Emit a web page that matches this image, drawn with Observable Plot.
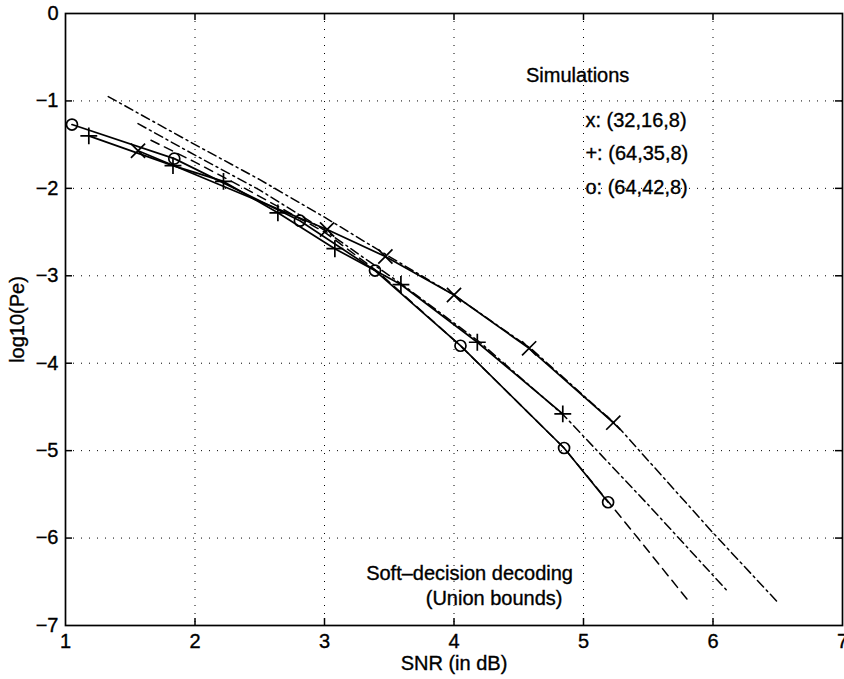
<!DOCTYPE html>
<html><head><meta charset="utf-8">
<script src="https://cdn.jsdelivr.net/npm/d3@7"></script>
<script src="https://cdn.jsdelivr.net/npm/@observablehq/plot@0.6"></script>
<style>body{margin:0;background:#fff} svg text{stroke:#000;stroke-width:0.35px}</style>
</head><body><div id="chart"></div>
<script>
// Tick values
const xTicks = [1, 2, 3, 4, 5, 6, 7];
const yTicks = [0, -1, -2, -3, -4, -5, -6, -7];

// Simulations (solid lines with markers)
const simX_snr = [1.56, 3.02, 3.47, 4.00, 4.58, 5.23];
const simX_logPe = [-1.57, -2.47, -2.78, -3.22, -3.83, -4.68];
const simPlus_snr = [1.18, 1.83, 2.22, 2.64, 3.08, 3.59, 4.18, 4.84];
const simPlus_logPe = [-1.40, -1.74, -1.92, -2.28, -2.69, -3.10, -3.76, -4.58];
const simO_snr = [1.05, 1.84, 2.81, 3.39, 4.05, 4.85, 5.19];
const simO_logPe = [-1.27, -1.66, -2.37, -2.94, -3.80, -4.97, -5.59];

// Union bounds (broken lines)
const boundX_snr = [1.33, 2.0, 2.5, 3.0, 3.5, 4.0, 4.6, 5.25, 6.0, 6.51];
const boundX_logPe = [-0.95, -1.50, -1.90, -2.33, -2.78, -3.22, -3.84, -4.70, -5.94, -6.75];
const boundPlus_snr = [1.56, 2.0, 2.5, 3.0, 3.6, 4.2, 4.85, 5.5, 6.12];
const boundPlus_logPe = [-1.26, -1.62, -2.02, -2.48, -3.10, -3.76, -4.60, -5.62, -6.62];
const boundO_snr = [1.66, 2.0, 2.41, 3.0, 3.4, 4.05, 4.85, 5.2, 5.42, 5.80];
const boundO_logPe = [-1.45, -1.70, -2.02, -2.50, -2.94, -3.80, -4.97, -5.60, -6.00, -6.70];

// Annotations
const annoText = ["Simulations", "x: (32,16,8)", "+: (64,35,8)", "o: (64,42,8)", "Soft\u2013decision decoding", "(Union bounds)"];
const annoSnr = [4.955, 5.015, 5.015, 5.015, 4.12, 4.31];
const annoLogPe = [-0.71, -1.22, -1.60, -1.99, -6.41, -6.69];
const annoAlign = ["middle", "start", "start", "start", "middle", "middle"];

const rows = (xs, ys) => xs.map((x, i) => ({snr: x, logPe: ys[i]}));
const anno = annoText.map((t, i) => ({text: t, snr: annoSnr[i], logPe: annoLogPe[i], align: annoAlign[i]}));
const fmt = d => (d < 0 ? "\u2212" + (-d) : String(d));

const W = 844, H = 679, mT = 13, mB = 54, mL = 65, mR = 2;
const plotH = H - mT - mB, plotW = W - mL - mR;
const font = "'Liberation Sans', Arial, Helvetica, sans-serif";

const chart = Plot.plot({
  width: W, height: H, marginTop: mT, marginBottom: mB, marginLeft: mL, marginRight: mR,
  style: {fontFamily: font, fontSize: "20px", color: "#000", background: "#fff", overflow: "visible"},
  x: {domain: [1, 7]},
  y: {domain: [-7, 0]},
  marks: [
    Plot.ruleX(xTicks.slice(1, -1), {x: d => d, stroke: "#000", strokeWidth: 1, strokeDasharray: "1,7"}),
    Plot.ruleY(yTicks.slice(1, -1), {y: d => d, stroke: "#000", strokeWidth: 1, strokeDasharray: "1,7"}),
    Plot.axisX(xTicks, {tickSize: 0, tickPadding: 8, fontSize: 20, tickFormat: fmt, label: "SNR (in dB)", labelAnchor: "center", labelArrow: "none", labelOffset: 44}),
    Plot.axisY(yTicks, {tickSize: 0, tickPadding: 7, fontSize: 20, tickFormat: fmt, label: "log10(Pe)", labelAnchor: "center", labelArrow: "none", labelOffset: 56}),
    // inward ticks
    Plot.tickX(xTicks.slice(1, -1), {x: d => d, insetTop: plotH - 7, stroke: "#000", strokeWidth: 1.5}),
    Plot.tickX(xTicks.slice(1, -1), {x: d => d, insetBottom: plotH - 7, stroke: "#000", strokeWidth: 1.5}),
    Plot.tickY(yTicks.slice(1, -1), {y: d => d, insetRight: plotW - 7, stroke: "#000", strokeWidth: 1.5}),
    Plot.tickY(yTicks.slice(1, -1), {y: d => d, insetLeft: plotW - 7, stroke: "#000", strokeWidth: 1.5}),
    // union bounds
    Plot.line(rows(boundX_snr, boundX_logPe), {x: "snr", y: "logPe", stroke: "#000", strokeWidth: 1.5, strokeDasharray: "9,4,2,4"}),
    Plot.line(rows(boundPlus_snr, boundPlus_logPe), {x: "snr", y: "logPe", stroke: "#000", strokeWidth: 1.5, strokeDasharray: "9,4,2,4"}),
    Plot.line(rows(boundO_snr, boundO_logPe), {x: "snr", y: "logPe", stroke: "#000", strokeWidth: 1.5, strokeDasharray: "9,6"}),
    // simulations
    Plot.line(rows(simX_snr, simX_logPe), {x: "snr", y: "logPe", stroke: "#000", strokeWidth: 1.7}),
    Plot.line(rows(simPlus_snr, simPlus_logPe), {x: "snr", y: "logPe", stroke: "#000", strokeWidth: 1.7}),
    Plot.line(rows(simO_snr, simO_logPe), {x: "snr", y: "logPe", stroke: "#000", strokeWidth: 1.7}),
    Plot.dot(rows(simX_snr, simX_logPe), {x: "snr", y: "logPe", symbol: "times", r: 6.5, stroke: "#000", strokeWidth: 1.7}),
    Plot.dot(rows(simPlus_snr, simPlus_logPe), {x: "snr", y: "logPe", symbol: "plus", r: 5.5, stroke: "#000", strokeWidth: 1.7}),
    Plot.dot(rows(simO_snr, simO_logPe), {x: "snr", y: "logPe", symbol: "circle", r: 5.5, stroke: "#000", fill: "none", strokeWidth: 1.7}),
    // frame
    Plot.frame({stroke: "#000", strokeWidth: 1.7}),
    // annotations
    Plot.text(anno.filter(d => d.align === "middle"), {x: "snr", y: "logPe", text: "text", textAnchor: "middle", fontSize: 20, fill: "#000"}),
    Plot.text(anno.filter(d => d.align === "start"), {x: "snr", y: "logPe", text: "text", textAnchor: "start", fontSize: 20, fill: "#000"})
  ]
});
document.getElementById("chart").appendChild(chart);
</script>
</body></html>
